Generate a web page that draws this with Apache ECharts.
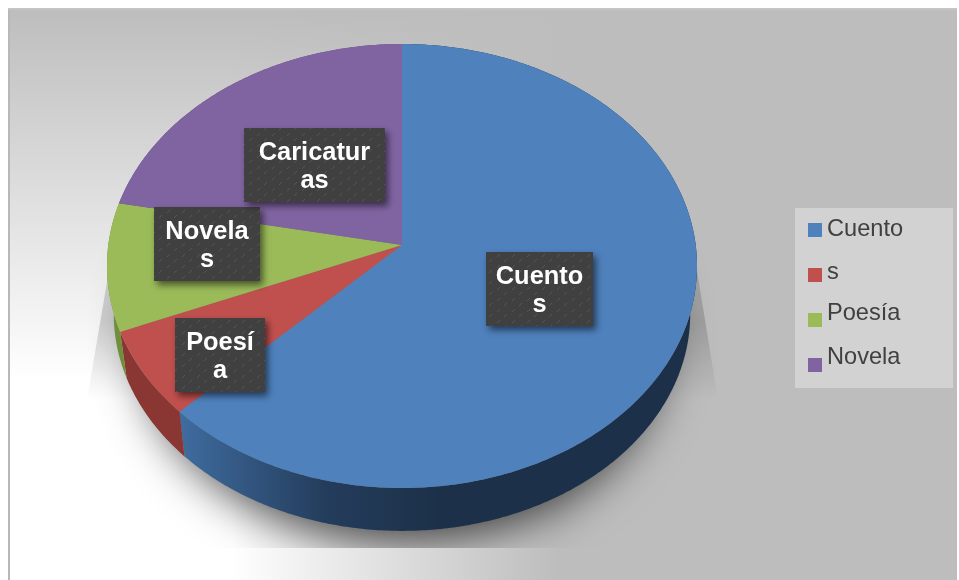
<!DOCTYPE html>
<html>
<head>
<meta charset="utf-8">
<title>Pie</title>
<script src="https://cdn.jsdelivr.net/npm/echarts@6/dist/echarts.min.js"></script>
<style>
  html, body { margin: 0; padding: 0; background: #fff; }
  #chart { width: 959px; height: 580px; }
</style>
</head>
<body>
<div id="chart"></div>
<script>
// values (share of the pie, %)
const sliceValues = [62.5, 6.3, 9.3, 21.9];
// the legend and the labels are cut this way in the original
const legendLabels = ['Cuento', 's', 'Poesía', 'Novela'];
const sliceLabels = ['Cuento\ns', 'Poesí\na', 'Novela\ns', 'Caricatur\nas'];
const topColors = ['#4f81bd', '#c0504d', '#9bbb59', '#8064a2'];

// label boxes, x0 y0 x1 y1
const labelBoxes = [
  [486, 252, 593, 326],
  [175, 318, 265, 392],
  [154, 207, 260, 281],
  [244, 128, 385, 202]
];

// perspective of the disc
const APEX_X = 402, APEX_Y = 245;
const PERSP = 0.0946, RX = 293.7, RY = 220;
const DEPTH_SCALE = 0.977, DEPTH = 48.5;

function project(angle, lower) {
  // angle in radians, clockwise from 12 o'clock
  const u = Math.sin(angle), v = -Math.cos(angle);
  const w = 1 - PERSP * v;
  let x = RX * u / w, y = RY * v / w;
  if (lower) {
    x *= DEPTH_SCALE;
    y = y * DEPTH_SCALE + DEPTH;
  }
  return [APEX_X + x, APEX_Y + y];
}

function arcPoints(a0, a1, lower) {
  const pts = [];
  const n = Math.max(2, Math.ceil((a1 - a0) / 0.01));
  for (let i = 0; i <= n; i++) pts.push(project(a0 + (a1 - a0) * i / n, lower));
  return pts;
}

const total = sliceValues.reduce((a, b) => a + b, 0);
const sliceAngles = [];
let acc = 0;
sliceValues.forEach(v => {
  sliceAngles.push([acc / total * Math.PI * 2, (acc + v) / total * Math.PI * 2]);
  acc += v;
});

function grad(x0, y0, x1, y1, stops) {
  return new echarts.graphic.LinearGradient(x0, y0, x1, y1,
    stops.map(s => ({ offset: s[0], color: s[1] })));
}

const wallFills = [
  grad(0, 0, 1, 0, [[0, '#3f6c9f'], [0.28, '#243d5c'], [0.5, '#1c3149'], [1, '#1c3149']]),
  '#8a3633',
  '#6f8f3a',
  '#5f4a7a'
];

// little diagonal flecks of the label boxes
function makeFleck() {
  const c = document.createElement('canvas');
  c.width = 15;
  c.height = 11;
  const g = c.getContext('2d');
  g.fillStyle = '#404040';
  g.fillRect(0, 0, 15, 11);
  g.strokeStyle = '#555555';
  g.lineWidth = 1;
  [[2, 4], [9, 9]].forEach(p => {
    g.beginPath();
    g.moveTo(p[0], p[1]);
    g.lineTo(p[0] + 3, p[1] - 3);
    g.stroke();
  });
  return c;
}
const fleck = makeFleck();

function renderSlice(index) {
  return function () {
    const a = sliceAngles[index];
    const top = arcPoints(a[0], a[1], false);
    const bottom = arcPoints(a[0], a[1], true);
    const box = labelBoxes[index];
    return {
      type: 'group',
      children: [
        {
          type: 'polygon',
          z2: 1,
          shape: { points: top.concat(bottom.slice().reverse()) },
          style: { fill: wallFills[index] }
        },
        {
          type: 'polygon',
          z2: 10,
          shape: { points: [[APEX_X, APEX_Y]].concat(top) },
          style: { fill: topColors[index] }
        },
        {
          type: 'rect',
          z2: 20,
          shape: { x: box[0], y: box[1], width: box[2] - box[0], height: box[3] - box[1] },
          style: {
            fill: { image: fleck, repeat: 'repeat' },
            shadowBlur: 7,
            shadowOffsetX: 3,
            shadowOffsetY: 4,
            shadowColor: 'rgba(0,0,0,0.55)'
          }
        },
        {
          type: 'text',
          z2: 21,
          style: {
            text: sliceLabels[index],
            x: (box[0] + box[2]) / 2,
            y: (box[1] + box[3]) / 2 + 2,
            align: 'center',
            verticalAlign: 'middle',
            fill: '#fff',
            font: 'bold 25.4px "Liberation Sans", Arial, sans-serif',
            lineHeight: 28
          }
        }
      ]
    };
  };
}

// blurred shadow under the pie, cut off at the bottom like the original
function renderShadow() {
  const clip = { type: 'rect', shape: { x: 87, y: 0, width: 631, height: 548 } };
  return {
    type: 'group',
    children: [
      {
        type: 'polygon',
        z2: 0,
        clipPath: clip,
        shape: { points: [[120, 205], [692, 240], [718, 400], [87, 400]] },
        style: {
          fill: grad(0, 0, 0, 1, [[0, 'rgba(0,0,0,0.12)'], [0.6, 'rgba(0,0,0,0.16)'], [1, 'rgba(0,0,0,0)']])
        }
      },
      {
        type: 'ellipse',
        z2: 0,
        clipPath: clip,
        shape: { cx: 402, cy: 316, rx: 262, ry: 205 },
        style: {
          fill: '#777',
          shadowBlur: 46,
          shadowOffsetX: 0,
          shadowOffsetY: 22,
          shadowColor: 'rgba(0,0,0,0.7)'
        }
      }
    ]
  };
}

const series = [{
  type: 'custom',
  coordinateSystem: 'none',
  silent: true,
  z: 1,
  data: [[0]],
  renderItem: renderShadow
}];
sliceValues.forEach((v, i) => {
  series.push({
    type: 'custom',
    name: legendLabels[i],
    coordinateSystem: 'none',
    silent: true,
    z: 2,
    itemStyle: { color: topColors[i] },
    data: [[v]],
    renderItem: renderSlice(i)
  });
});

const chart = echarts.init(document.getElementById('chart'), null, { renderer: 'canvas' });
chart.setOption({
  animation: false,
  graphic: [
    { type: 'rect', z: -10, shape: { x: 8, y: 8, width: 949, height: 572 }, style: { fill: '#fff' } },
    {
      type: 'rect', z: -9, shape: { x: 8, y: 8, width: 949, height: 372 },
      style: { fill: grad(0, 0, 0, 1, [[0, 'rgba(189,189,189,1)'], [1, 'rgba(189,189,189,0)']]) }
    },
    {
      type: 'rect', z: -8, shape: { x: 230, y: 8, width: 727, height: 572 },
      style: { fill: grad(0, 0, 1, 0, [[0, 'rgba(189,189,189,0)'], [0.45, 'rgba(189,189,189,1)'], [1, 'rgba(189,189,189,1)']]) }
    },
    { type: 'rect', z: -7, shape: { x: 8, y: 8, width: 2, height: 572 }, style: { fill: '#b8b8b8' } },
    { type: 'rect', z: -7, shape: { x: 8, y: 8, width: 949, height: 2 }, style: { fill: '#c4c4c4' } },
    // legend panel
    { type: 'rect', z: -6, shape: { x: 795, y: 208, width: 158, height: 180 }, style: { fill: '#d2d2d2' } }
  ],
  legend: {
    data: legendLabels,
    orient: 'vertical',
    left: 808,
    top: 202,
    padding: 0,
    icon: 'rect',
    itemWidth: 14,
    itemHeight: 14,
    itemGap: -11,
    selectedMode: false,
    itemStyle: { borderWidth: 0 },
    formatter: name => '{l' + legendLabels.indexOf(name) + '|' + name + '}',
    textStyle: {
      color: '#404040',
      fontFamily: '"Liberation Sans", Arial, sans-serif',
      fontSize: 23.6,
      rich: {
        l0: { fontSize: 23.6, lineHeight: 24, padding: [15.5, 0, 16.5, 0] },
        l1: { fontSize: 23.6, lineHeight: 24, padding: [13, 0, 19, 0] },
        l2: { fontSize: 23.6, lineHeight: 24, padding: [9.5, 0, 22.5, 0] },
        l3: { fontSize: 23.6, lineHeight: 24, padding: [8, 0, 24, 0] }
      }
    }
  },
  series: series
});
</script>
</body>
</html>
